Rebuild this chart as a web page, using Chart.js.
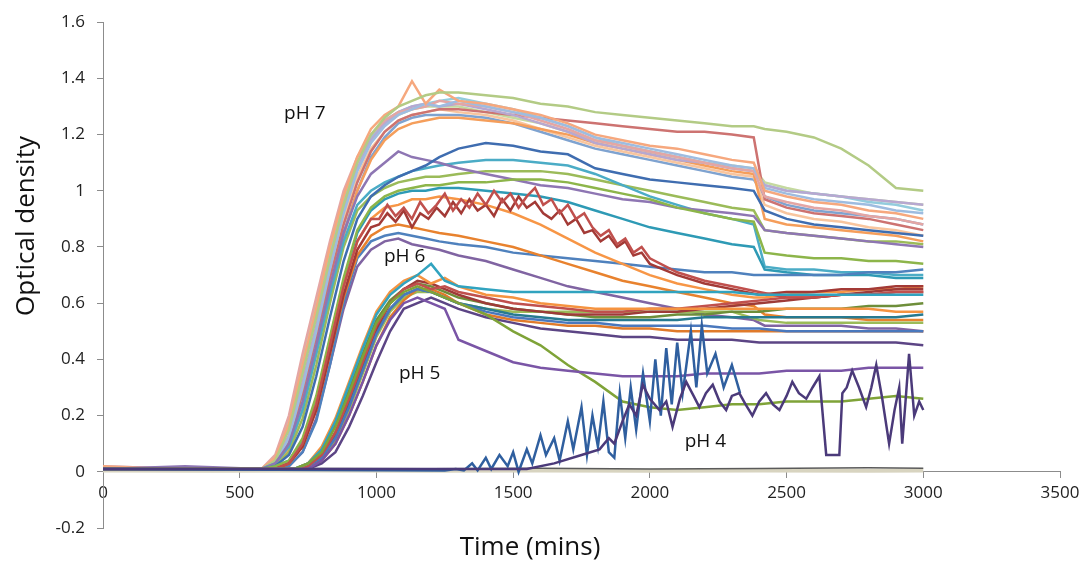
<!DOCTYPE html>
<html>
<head>
<meta charset="utf-8">
<title>Optical density vs time</title>
<script src="https://cdn.jsdelivr.net/npm/chart.js@4.4.0/dist/chart.umd.min.js"></script>
<style>
  html, body { margin: 0; padding: 0; background: #fff; }
  #wrap { width: 1085px; height: 565px; }
</style>
</head>
<body>
<div id="wrap"><canvas id="myChart" width="1085" height="565"></canvas></div>
<script>
// ***** DATA *****

// sample times (mins) for the pH 7 / pH 6 curves
const timeA = [0, 300, 580, 630, 680, 730, 780, 830, 880, 930, 980, 1030, 1080, 1130, 1180, 1230, 1300, 1400, 1500, 1600, 1700, 1800, 1900, 2000, 2100, 2200, 2300, 2380, 2420, 2500, 2600, 2700, 2800, 2900, 3000];

// pH 7
const ph7a = [0.01,0.01,0.01,0.04,0.15,0.35,0.55,0.76,0.95,1.1,1.2,1.26,1.3,1.32,1.34,1.35,1.35,1.34,1.33,1.31,1.3,1.28,1.27,1.26,1.25,1.24,1.23,1.23,1.22,1.21,1.19,1.15,1.09,1.01,1.0];
const ph7b = [0.02,0.01,0.01,0.05,0.17,0.38,0.58,0.8,0.98,1.12,1.22,1.27,1.3,1.39,1.31,1.36,1.32,1.31,1.29,1.27,1.24,1.2,1.18,1.16,1.15,1.13,1.11,1.1,1.0,0.98,0.96,0.95,0.93,0.92,0.9];
const ph7c = [0.01,0.01,0.01,0.03,0.12,0.3,0.5,0.72,0.92,1.07,1.17,1.23,1.27,1.29,1.31,1.3,1.32,1.3,1.28,1.26,1.23,1.19,1.17,1.15,1.13,1.11,1.09,1.08,1.01,0.99,0.97,0.96,0.95,0.93,0.92];
const ph7d = [0.01,0.01,0.01,0.06,0.2,0.42,0.62,0.82,1.0,1.12,1.2,1.25,1.28,1.29,1.3,1.32,1.31,1.3,1.28,1.25,1.22,1.18,1.16,1.14,1.12,1.1,1.08,1.07,0.98,0.96,0.94,0.93,0.91,0.9,0.88];
const ph7e = [0.02,0.01,0.01,0.03,0.13,0.32,0.52,0.74,0.93,1.08,1.18,1.24,1.28,1.3,1.31,1.3,1.31,1.29,1.27,1.24,1.21,1.17,1.15,1.13,1.11,1.1,1.08,1.07,1.02,1.0,0.99,0.98,0.97,0.96,0.95];
const ph7f = [0.01,0.01,0.01,0.02,0.08,0.22,0.42,0.63,0.84,1.0,1.11,1.18,1.22,1.24,1.25,1.26,1.26,1.25,1.24,1.22,1.2,1.17,1.15,1.13,1.11,1.09,1.07,1.06,0.9,0.88,0.87,0.86,0.85,0.84,0.82];
const ph7g = [0.01,0.01,0.01,0.04,0.16,0.36,0.57,0.78,0.96,1.1,1.19,1.25,1.28,1.3,1.31,1.32,1.33,1.31,1.29,1.26,1.23,1.19,1.16,1.14,1.12,1.1,1.08,1.07,1.02,1.0,0.99,0.98,0.96,0.95,0.93];
const ph7h = [0.01,0.01,0.01,0.03,0.11,0.28,0.48,0.69,0.88,1.03,1.14,1.21,1.25,1.27,1.28,1.29,1.29,1.28,1.27,1.26,1.25,1.24,1.23,1.22,1.21,1.21,1.2,1.19,0.97,0.94,0.92,0.91,0.9,0.88,0.86];
const ph7i = [0.01,0.01,0.01,0.05,0.18,0.4,0.6,0.8,0.97,1.1,1.19,1.24,1.27,1.29,1.3,1.3,1.3,1.28,1.26,1.24,1.21,1.18,1.16,1.14,1.12,1.1,1.09,1.08,1.03,1.01,0.99,0.98,0.97,0.96,0.95];
const ph7j = [0.01,0.01,0.01,0.03,0.12,0.3,0.5,0.71,0.9,1.05,1.15,1.21,1.25,1.27,1.28,1.29,1.28,1.27,1.25,1.22,1.19,1.16,1.14,1.12,1.1,1.08,1.06,1.05,0.95,0.92,0.9,0.89,0.87,0.86,0.84];
const ph7k = [0.01,0.01,0.01,0.03,0.1,0.25,0.44,0.65,0.85,1.0,1.12,1.19,1.24,1.26,1.27,1.27,1.27,1.26,1.24,1.21,1.18,1.15,1.13,1.11,1.09,1.07,1.05,1.04,0.98,0.95,0.93,0.92,0.91,0.9,0.88];
const ph7l = [0.01,0.01,0.01,0.02,0.06,0.16,0.34,0.55,0.75,0.9,0.98,1.02,1.05,1.07,1.09,1.12,1.15,1.17,1.16,1.14,1.13,1.08,1.06,1.04,1.03,1.02,1.01,1.0,0.93,0.9,0.88,0.87,0.86,0.85,0.84];
const ph7m = [0.01,0.02,0.01,0.03,0.1,0.25,0.45,0.66,0.85,0.98,1.06,1.1,1.14,1.12,1.11,1.1,1.08,1.06,1.04,1.02,1.01,0.99,0.97,0.96,0.94,0.93,0.92,0.91,0.86,0.85,0.84,0.83,0.82,0.81,0.8];
const ph7n = [0.01,0.01,0.01,0.03,0.09,0.22,0.42,0.63,0.82,0.95,1.0,1.03,1.05,1.07,1.08,1.09,1.1,1.11,1.11,1.1,1.09,1.06,1.02,0.98,0.95,0.92,0.9,0.88,0.73,0.72,0.72,0.71,0.71,0.7,0.7];
const ph7o = [0.01,0.01,0.01,0.02,0.07,0.19,0.38,0.6,0.8,0.93,0.98,1.01,1.03,1.04,1.05,1.05,1.06,1.07,1.07,1.07,1.06,1.04,1.02,1.0,0.98,0.96,0.94,0.93,0.86,0.85,0.84,0.83,0.82,0.82,0.81];

// pH 6
const ph6c = [0.01,0.01,0.01,0.01,0.03,0.1,0.24,0.45,0.66,0.82,0.9,0.94,0.95,0.97,0.97,0.98,0.97,0.95,0.92,0.88,0.83,0.78,0.74,0.7,0.67,0.65,0.63,0.62,0.62,0.63,0.64,0.64,0.65,0.65,0.66];
const ph6d = [0.01,0.01,0.01,0.01,0.03,0.09,0.22,0.42,0.62,0.77,0.84,0.87,0.88,0.87,0.86,0.85,0.84,0.82,0.8,0.77,0.74,0.71,0.68,0.66,0.64,0.62,0.6,0.59,0.56,0.55,0.55,0.55,0.54,0.54,0.54];
const ph6e = [0.01,0.01,0.01,0.01,0.02,0.07,0.18,0.38,0.6,0.76,0.82,0.84,0.85,0.84,0.83,0.82,0.81,0.8,0.78,0.77,0.76,0.75,0.74,0.73,0.72,0.71,0.71,0.7,0.7,0.7,0.7,0.7,0.71,0.71,0.72];
const ph6f = [0.01,0.01,0.01,0.01,0.02,0.07,0.19,0.38,0.58,0.73,0.79,0.82,0.83,0.81,0.8,0.79,0.77,0.75,0.72,0.69,0.66,0.64,0.62,0.6,0.58,0.56,0.55,0.54,0.52,0.52,0.52,0.52,0.51,0.51,0.5];
const ph6g = [0.01,0.01,0.01,0.02,0.04,0.12,0.27,0.48,0.69,0.86,0.94,0.98,1.0,1.01,1.02,1.02,1.03,1.03,1.04,1.04,1.03,1.01,0.99,0.97,0.94,0.92,0.9,0.89,0.78,0.77,0.76,0.76,0.75,0.75,0.74];
const ph6h = [0.01,0.01,0.01,0.02,0.04,0.11,0.26,0.47,0.68,0.85,0.93,0.97,0.99,1.0,1.0,1.01,1.01,1.0,0.99,0.98,0.96,0.93,0.9,0.87,0.85,0.83,0.81,0.8,0.72,0.71,0.7,0.7,0.7,0.69,0.69];

// the two noisy red pH 6 curves are sampled more densely
const timeR = [0, 300, 580, 630, 680, 730, 780, 830, 880, 930, 980,
  1010, 1040, 1070, 1100, 1130, 1160, 1190, 1220, 1250, 1280, 1310, 1340, 1370, 1400, 1430, 1460, 1490, 1520, 1550, 1580,
  1610, 1640, 1670, 1700, 1730, 1760, 1790, 1820, 1850, 1880, 1910, 1940, 1970, 2000,
  2100, 2200, 2300, 2400, 2500, 2600, 2700, 2800, 2900, 3000];
const ph6a = [0.01,0.01,0.01,0.01,0.03,0.1,0.24,0.45,0.66,0.82,0.9,
  0.9,0.95,0.91,0.94,0.9,0.96,0.92,0.95,0.99,0.93,0.97,0.94,0.99,0.95,1.0,0.96,0.99,0.94,0.98,1.01,
  0.95,0.97,0.92,0.95,0.9,0.92,0.87,0.84,0.86,0.81,0.83,0.78,0.8,0.76,
  0.71,0.68,0.66,0.64,0.62,0.62,0.63,0.63,0.64,0.64];
const ph6b = [0.01,0.01,0.01,0.01,0.03,0.09,0.22,0.42,0.63,0.79,0.87,
  0.88,0.92,0.89,0.93,0.87,0.92,0.9,0.94,0.91,0.96,0.92,0.97,0.93,0.95,0.91,0.97,0.93,0.98,0.94,0.96,
  0.92,0.9,0.93,0.88,0.9,0.85,0.86,0.82,0.84,0.8,0.82,0.77,0.78,0.74,
  0.7,0.67,0.65,0.63,0.64,0.64,0.65,0.65,0.66,0.66];

// sample times (mins) for the pH 5 curves
const timeB = [0, 300, 650, 700, 750, 800, 850, 900, 950, 1000, 1050, 1100, 1150, 1200, 1250, 1300, 1400, 1500, 1600, 1700, 1800, 1900, 2000, 2100, 2200, 2300, 2400, 2500, 2600, 2700, 2800, 2900, 3000];

// pH 5
const ph5a = [0.01,0.01,0.01,0.01,0.03,0.08,0.18,0.31,0.44,0.56,0.63,0.67,0.7,0.74,0.68,0.66,0.65,0.64,0.64,0.64,0.64,0.64,0.64,0.64,0.64,0.64,0.63,0.63,0.63,0.63,0.63,0.63,0.63];
const ph5b = [0.01,0.01,0.01,0.01,0.03,0.09,0.19,0.32,0.45,0.57,0.64,0.68,0.7,0.67,0.69,0.66,0.63,0.62,0.6,0.59,0.58,0.58,0.58,0.58,0.58,0.58,0.58,0.58,0.58,0.58,0.58,0.57,0.57];
const ph5c = [0.01,0.01,0.01,0.01,0.02,0.06,0.14,0.26,0.39,0.52,0.6,0.65,0.67,0.65,0.66,0.64,0.62,0.6,0.59,0.58,0.57,0.57,0.58,0.58,0.59,0.6,0.61,0.62,0.62,0.63,0.63,0.64,0.64];
const ph5d = [0.01,0.01,0.01,0.01,0.03,0.07,0.16,0.28,0.41,0.53,0.6,0.64,0.66,0.64,0.62,0.6,0.56,0.5,0.45,0.38,0.32,0.25,0.23,0.22,0.23,0.24,0.24,0.25,0.25,0.25,0.26,0.27,0.26];
const ph5e = [0.01,0.01,0.01,0.01,0.01,0.04,0.1,0.2,0.32,0.45,0.54,0.6,0.62,0.6,0.58,0.47,0.43,0.39,0.37,0.36,0.35,0.34,0.34,0.34,0.35,0.35,0.35,0.36,0.36,0.36,0.37,0.37,0.37];
const ph5f = [0.01,0.01,0.01,0.01,0.02,0.05,0.12,0.23,0.36,0.49,0.58,0.63,0.65,0.64,0.62,0.6,0.57,0.55,0.54,0.53,0.53,0.52,0.52,0.52,0.52,0.51,0.51,0.5,0.5,0.5,0.5,0.5,0.5];
const ph5g = [0.01,0.01,0.01,0.01,0.02,0.06,0.14,0.26,0.39,0.51,0.6,0.65,0.68,0.67,0.65,0.63,0.6,0.58,0.57,0.56,0.56,0.56,0.57,0.57,0.58,0.59,0.6,0.61,0.62,0.63,0.64,0.65,0.65];
const ph5h = [0.01,0.01,0.01,0.01,0.03,0.08,0.17,0.29,0.42,0.54,0.61,0.65,0.67,0.66,0.64,0.62,0.6,0.58,0.57,0.56,0.55,0.55,0.55,0.56,0.56,0.57,0.57,0.58,0.58,0.58,0.59,0.59,0.6];
const ph5i = [0.01,0.01,0.01,0.01,0.01,0.03,0.07,0.16,0.27,0.39,0.5,0.58,0.6,0.62,0.6,0.58,0.55,0.53,0.51,0.5,0.49,0.48,0.48,0.47,0.47,0.47,0.46,0.46,0.46,0.46,0.46,0.46,0.45];
const ph5j = [0.01,0.01,0.01,0.01,0.01,0.04,0.1,0.2,0.32,0.45,0.55,0.61,0.65,0.65,0.63,0.6,0.56,0.54,0.53,0.52,0.52,0.51,0.51,0.5,0.5,0.5,0.5,0.5,0.5,0.5,0.5,0.5,0.5];
const ph5k = [0.01,0.01,0.01,0.01,0.02,0.05,0.13,0.24,0.37,0.5,0.58,0.63,0.65,0.64,0.62,0.6,0.58,0.56,0.55,0.54,0.54,0.54,0.54,0.54,0.55,0.55,0.55,0.55,0.55,0.55,0.55,0.55,0.56];
const ph5l = [0.01,0.01,0.01,0.01,0.01,0.04,0.11,0.22,0.35,0.48,0.57,0.62,0.64,0.64,0.62,0.6,0.58,0.57,0.57,0.57,0.57,0.57,0.57,0.57,0.57,0.57,0.54,0.53,0.53,0.53,0.53,0.53,0.53];

// pH 4 (noisy, own time points)
const ph4BlueTimes = [0, 1250, 1290, 1320, 1350, 1370, 1400, 1420, 1450, 1480, 1500, 1520, 1550, 1570, 1600, 1620, 1650, 1670, 1700, 1720, 1750, 1770, 1790, 1810, 1830, 1850, 1870, 1890, 1910, 1930, 1950, 1975, 2000, 2020, 2040, 2060, 2080, 2100, 2120, 2150, 2170, 2190, 2210, 2240, 2270, 2300, 2330];
const ph4BlueValues = [0.01,0.005,0.01,0.005,0.03,0.005,0.05,0.01,0.06,0.02,0.07,0.0,0.08,0.03,0.13,0.06,0.12,0.04,0.18,0.08,0.23,0.06,0.2,0.09,0.25,0.07,0.05,0.28,0.12,0.3,0.15,0.35,0.18,0.4,0.2,0.44,0.24,0.46,0.28,0.5,0.3,0.52,0.35,0.42,0.3,0.38,0.28];
const ph4PurpleTimes = [0, 1550, 1650, 1750, 1816, 1850, 1870, 1900, 1925, 1950, 1974, 2000, 2035, 2060, 2083, 2110, 2133, 2160, 2181, 2205, 2230, 2255, 2279, 2300, 2327, 2350, 2375, 2400, 2425, 2450, 2474, 2500, 2521, 2545, 2572, 2595, 2620, 2645, 2693, 2704, 2720, 2740, 2765, 2791, 2810, 2828, 2850, 2875, 2895, 2912, 2923, 2935, 2948, 2967, 2985, 3000];
const ph4PurpleValues = [0.01,0.01,0.03,0.06,0.08,0.12,0.1,0.18,0.24,0.2,0.31,0.26,0.22,0.25,0.16,0.26,0.32,0.27,0.23,0.28,0.31,0.25,0.22,0.27,0.28,0.24,0.2,0.25,0.28,0.24,0.22,0.27,0.32,0.28,0.26,0.3,0.34,0.06,0.06,0.28,0.3,0.36,0.3,0.23,0.3,0.38,0.26,0.1,0.22,0.3,0.1,0.25,0.42,0.2,0.25,0.22];

// flat blank wells along zero
const baseTimes = [0, 400, 800, 1200, 1600, 2000, 2400, 2800, 3000];
const baseDark = [0.012,0.01,0.012,0.011,0.013,0.01,0.012,0.014,0.013];
const baseLight = [0.005,0.004,0.005,0.004,0.005,0.004,0.005,0.004,0.005];

// text labels placed in data space
const phLabels = ['pH 7', 'pH 6', 'pH 5', 'pH 4'];
const labelTimes = [738, 1103, 1158, 2203];
const labelDensity = [1.276, 0.767, 0.35, 0.106];

// axis ticks
const xTicks = { min: 0, max: 3500, step: 500 };
const yTicks = { min: -0.2, max: 1.6, step: 0.2 };


// ***** HELPERS *****

function makeLine(times, values, color, width) {
  let points = [];
  for (let i = 0; i < values.length; i++) {
    points.push({ x: times[i], y: values[i] });
  }
  return {
    data: points,
    borderColor: color,
    borderWidth: width || 2.5,
    pointRadius: 0,
    fill: false,
    tension: 0
  };
}

// first dataset is painted last (on top)
let datasets = [
  makeLine(ph4PurpleTimes, ph4PurpleValues, '#4B3A7A'),
  makeLine(ph4BlueTimes, ph4BlueValues, '#2F5F9F'),

  makeLine(timeB, ph5e, '#7A55A6'),
  makeLine(timeB, ph5d, '#7FA338'),
  makeLine(timeB, ph5a, '#31A3BF'),
  makeLine(timeB, ph5b, '#F59340'),
  makeLine(timeB, ph5c, '#C0504D'),
  makeLine(timeB, ph5f, '#4A78BD'),
  makeLine(timeB, ph5g, '#9E3B38'),
  makeLine(timeB, ph5h, '#6E8E3A'),
  makeLine(timeB, ph5i, '#5C4585'),
  makeLine(timeB, ph5j, '#E07A2A'),
  makeLine(timeB, ph5k, '#277A90'),
  makeLine(timeB, ph5l, '#9BBB59'),

  makeLine(timeR, ph6a, '#C0504D'),
  makeLine(timeR, ph6b, '#A33A36'),
  makeLine(timeA, ph6c, '#F79646'),
  makeLine(timeA, ph6d, '#E8822E'),
  makeLine(timeA, ph6e, '#4F81BD'),
  makeLine(timeA, ph6f, '#8064A2'),
  makeLine(timeA, ph6g, '#8DB54A'),
  makeLine(timeA, ph6h, '#2E9AB5'),

  makeLine(timeA, ph7l, '#3F6DB0'),
  makeLine(timeA, ph7m, '#8E76B3'),
  makeLine(timeA, ph7n, '#4BACC6'),
  makeLine(timeA, ph7o, '#9BBB59'),
  makeLine(timeA, ph7a, '#B3CB85'),
  makeLine(timeA, ph7b, '#F6A87E'),
  makeLine(timeA, ph7c, '#9EBCE0'),
  makeLine(timeA, ph7d, '#E4A6A4'),
  makeLine(timeA, ph7e, '#B7A8D1'),
  makeLine(timeA, ph7f, '#F59E5B'),
  makeLine(timeA, ph7g, '#93CCDD'),
  makeLine(timeA, ph7h, '#CD7371'),
  makeLine(timeA, ph7i, '#C5D9A0'),
  makeLine(timeA, ph7j, '#F8C59E'),
  makeLine(timeA, ph7k, '#7FA3D0'),

  makeLine(baseTimes, baseDark, '#5A5A5A', 1.5),
  makeLine(baseTimes, baseLight, '#D8D4C0', 4)
];

// ***** TEXT PLUGIN *****

const textPlugin = {
  id: 'textPlugin',
  afterDatasetsDraw(chart) {
    const { ctx, scales } = chart;
    ctx.save();
    ctx.fillStyle = '#111';
    ctx.textAlign = 'center';
    ctx.textBaseline = 'middle';
    ctx.font = '19px "Open Sans"';
    for (let i = 0; i < phLabels.length; i++) {
      ctx.fillText(phLabels[i], scales.x.getPixelForValue(labelTimes[i]), scales.y.getPixelForValue(labelDensity[i]));
    }
    ctx.font = '26px "Open Sans"';
    ctx.fillText('Time (mins)', 530, 548);
    ctx.translate(27, 226);
    ctx.rotate(-Math.PI / 2);
    ctx.fillText('Optical density', 0, 0);
    ctx.restore();
  }
};

// ***** CHART *****

Chart.defaults.font.family = '"Open Sans", sans-serif';
Chart.defaults.font.size = 17;
Chart.defaults.color = '#222';

const ctx = document.getElementById('myChart').getContext('2d');
new Chart(ctx, {
  type: 'line',
  data: { datasets: datasets },
  options: {
    responsive: false,
    animation: false,
    events: [],
    layout: { padding: { top: 19, right: 25, bottom: 37, left: 0 } },
    plugins: { legend: { display: false }, tooltip: { enabled: false } },
    scales: {
      x: {
        type: 'linear',
        position: { y: 0 },
        min: xTicks.min,
        max: xTicks.max,
        ticks: { stepSize: xTicks.step, padding: 5, maxRotation: 0, callback: (v) => String(v) },
        grid: { drawOnChartArea: false, tickLength: 6, color: '#8c8c8c' },
        border: { color: '#8c8c8c' }
      },
      y: {
        type: 'linear',
        min: yTicks.min,
        max: yTicks.max,
        ticks: {
          stepSize: yTicks.step,
          padding: 12,
          callback: (v) => String(Number(v.toFixed(1)))
        },
        grid: { drawOnChartArea: false, tickLength: 6, color: '#8c8c8c' },
        border: { color: '#8c8c8c' },
        afterFit(scale) { scale.width = 103; }
      }
    }
  },
  plugins: [textPlugin]
});
</script>
</body>
</html>
